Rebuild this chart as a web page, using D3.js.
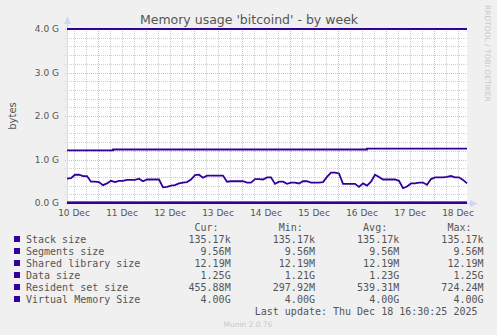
<!DOCTYPE html>
<html>
<head>
<meta charset="utf-8">
<script src="https://cdn.jsdelivr.net/npm/d3@7"></script>
<style>
  html, body { margin: 0; padding: 0; background: #f0f0f0; }
  svg { display: block; }
  text { font-family: "DejaVu Sans", sans-serif; }
  .mono { font-family: "DejaVu Sans Mono", monospace; font-size: 10px; fill: #555; }
</style>
</head>
<body>
<div id="chart"></div>
<script>
(function () {
    'use strict'

    // time window shown (UTC) and sampling of the traced series
    var startTime = new Date(Date.UTC(2025, 11, 10, 8, 30))
    var endTime = new Date(Date.UTC(2025, 11, 18, 16, 30))
    var sampleHours = 2

    // resident set size, in G, read every 2 hours from the picture
    var rssValues = [
        0.56, 0.57, 0.65, 0.65, 0.62, 0.62, 0.49, 0.49, 0.48, 0.41,
        0.45, 0.51, 0.48, 0.51, 0.51, 0.53, 0.53, 0.53, 0.56, 0.50,
        0.54, 0.54, 0.54, 0.54, 0.36, 0.37, 0.40, 0.41, 0.45, 0.47,
        0.48, 0.54, 0.64, 0.65, 0.58, 0.63, 0.63, 0.63, 0.63, 0.63,
        0.49, 0.50, 0.50, 0.50, 0.50, 0.47, 0.47, 0.55, 0.55, 0.54,
        0.59, 0.59, 0.44, 0.49, 0.49, 0.44, 0.47, 0.47, 0.45, 0.50,
        0.50, 0.47, 0.47, 0.47, 0.48, 0.60, 0.70, 0.70, 0.68, 0.44,
        0.44, 0.44, 0.44, 0.37, 0.45, 0.40, 0.49, 0.65, 0.60, 0.54,
        0.54, 0.54, 0.54, 0.51, 0.34, 0.38, 0.45, 0.45, 0.47, 0.47,
        0.42, 0.55, 0.59, 0.59, 0.59, 0.60, 0.62, 0.59, 0.59, 0.53,
        0.45
    ]

    // data size steps: hours after start, value in G
    var dataSizeHours = [0, 23, 150, 200]
    var dataSizeValues = [1.21, 1.23, 1.25, 1.25]

    // flat series, in G
    var virtualMemory = 4.0
    var stackSize = 0.000126
    var segmentsSize = 0.0093
    var sharedLibSize = 0.0119

    var yTicks = [0, 1, 2, 3, 4]

    var legendNames = ['Stack size', 'Segments size', 'Shared library size', 'Data size', 'Resident set size', 'Virtual Memory Size']
    var curVals = ['135.17k', '9.56M', '12.19M', '1.25G', '455.88M', '4.00G']
    var minVals = ['135.17k', '9.56M', '12.19M', '1.21G', '297.92M', '4.00G']
    var avgVals = ['135.17k', '9.56M', '12.19M', '1.23G', '539.31M', '4.00G']
    var maxVals = ['135.17k', '9.56M', '12.19M', '1.25G', '724.24M', '4.00G']

    var lineColor = '#330099'
    var W = 497, H = 335
    var left = 67, right = 467, top = 29, bottom = 203

    var svg = d3.select('#chart').append('svg')
        .attr('width', W)
        .attr('height', H)

    svg.append('rect').attr('width', W).attr('height', H).attr('fill', '#f0f0f0')

    var x = d3.scaleUtc().domain([startTime, endTime]).range([left, right])
    var y = d3.scaleLinear().domain([0, 4]).range([bottom, top])

    function hoursToDate(h) {
        return new Date(startTime.getTime() + h * 3600 * 1000)
    }

    // canvas
    svg.append('rect')
        .attr('x', left).attr('y', top)
        .attr('width', right - left).attr('height', bottom - top)
        .attr('fill', '#fff')

    var minorColor = '#cdcdcd', majorColor = '#eab4b4'

    // minor grid
    var minorY = d3.range(0, 4.001, 0.2).filter(function (v) { return Math.abs(v - Math.round(v)) > 0.01 })
    svg.append('g').selectAll('line').data(minorY).enter().append('line')
        .attr('x1', left - 2).attr('x2', right)
        .attr('y1', function (d) { return Math.round(y(d)) + 0.5 })
        .attr('y2', function (d) { return Math.round(y(d)) + 0.5 })
        .attr('stroke', minorColor).attr('stroke-dasharray', '1,1')

    var minorX = d3.utcHour.every(6).range(startTime, endTime)
        .filter(function (d) { return d.getUTCHours() !== 0 })
    svg.append('g').selectAll('line').data(minorX).enter().append('line')
        .attr('x1', function (d) { return Math.round(x(d)) + 0.5 })
        .attr('x2', function (d) { return Math.round(x(d)) + 0.5 })
        .attr('y1', top).attr('y2', bottom + 2)
        .attr('stroke', minorColor).attr('stroke-dasharray', '1,1')

    // major grid
    svg.append('g').selectAll('line').data(yTicks).enter().append('line')
        .attr('x1', left - 2).attr('x2', right)
        .attr('y1', function (d) { return Math.round(y(d)) + 0.5 })
        .attr('y2', function (d) { return Math.round(y(d)) + 0.5 })
        .attr('stroke', majorColor).attr('stroke-dasharray', '1,1')

    var days = d3.utcDay.range(startTime, endTime)
    svg.append('g').selectAll('line').data(days).enter().append('line')
        .attr('x1', function (d) { return Math.round(x(d)) + 0.5 })
        .attr('x2', function (d) { return Math.round(x(d)) + 0.5 })
        .attr('y1', top).attr('y2', bottom + 2)
        .attr('stroke', majorColor).attr('stroke-dasharray', '1,1')

    // axes with arrows
    var axisColor = '#cfd6f8'
    svg.append('line').attr('x1', left + 0.5).attr('x2', left + 0.5)
        .attr('y1', bottom + 2).attr('y2', top - 6)
        .attr('stroke', axisColor)
    svg.append('path').attr('d', 'M' + (left - 3) + ',' + (top - 5) + 'L' + (left + 0.5) + ',' + (top - 13) + 'L' + (left + 4) + ',' + (top - 5) + 'Z')
        .attr('fill', axisColor)
    svg.append('line').attr('x1', left - 2).attr('x2', right + 4)
        .attr('y1', bottom + 0.5).attr('y2', bottom + 0.5)
        .attr('stroke', axisColor)
    svg.append('path').attr('d', 'M' + (right + 3) + ',' + (bottom - 3) + 'L' + (right + 11) + ',' + (bottom + 0.5) + 'L' + (right + 3) + ',' + (bottom + 4) + 'Z')
        .attr('fill', axisColor)

    // tick labels
    svg.append('g').selectAll('text').data(yTicks).enter().append('text')
        .attr('x', 59).attr('y', function (d) { return y(d) + 3.3 })
        .attr('text-anchor', 'end')
        .attr('font-size', '9px').attr('fill', '#555')
        .text(function (d) { return d.toFixed(1) + ' G' })

    var fmt = d3.utcFormat('%d %b')
    var labelDays = d3.utcDay.range(d3.utcDay.floor(startTime), endTime).filter(function (d) {
        var noon = d3.utcHour.offset(d, 12)
        return noon >= startTime && noon <= endTime
    })
    svg.append('g').selectAll('text').data(labelDays).enter().append('text')
        .attr('x', function (d) { return x(d3.utcHour.offset(d, 12)) })
        .attr('y', 215.5)
        .attr('text-anchor', 'middle')
        .attr('font-size', '9px').attr('fill', '#555')
        .text(function (d) { return fmt(d) })

    // series
    var line = d3.line()
        .x(function (d) { return x(d[0]) })
        .y(function (d) { return y(d[1]) })

    var flat = function (v) { return [[startTime, v], [endTime, v]] }
    var dataPts = []
    dataSizeHours.forEach(function (h, i) {
        if (i > 0) dataPts.push([hoursToDate(h), dataSizeValues[i - 1]])
        dataPts.push([hoursToDate(h), dataSizeValues[i]])
    })
    var rssPts = rssValues.map(function (v, i) { return [hoursToDate(Math.min(i * sampleHours, 200)), v] })

    var series = [flat(stackSize), flat(segmentsSize), flat(sharedLibSize), dataPts, rssPts, flat(virtualMemory)]
    svg.append('g').selectAll('path').data(series).enter().append('path')
        .attr('d', line)
        .attr('fill', 'none')
        .attr('stroke', lineColor)
        .attr('stroke-width', 1.8)
        .attr('stroke-linejoin', 'miter')

    // title and labels
    svg.append('text').attr('x', 249).attr('y', 24)
        .attr('text-anchor', 'middle').attr('font-size', '12.5px').attr('fill', '#555')
        .text("Memory usage 'bitcoind' - by week")

    svg.append('text').attr('transform', 'translate(16,' + ((top + bottom) / 2) + ') rotate(-90)')
        .attr('text-anchor', 'middle').attr('font-size', '10px').attr('fill', '#555')
        .text('bytes')

    svg.append('text').attr('transform', 'translate(485,5) rotate(90)')
        .attr('font-size', '7.5px').attr('fill', '#c8c8c8')
        .text('RRDTOOL / TOBI OETIKER')

    // legend
    var cw = 6.02, lx = 26
    var colEnds = [34, 48, 62, 76].map(function (c) { return lx + c * cw })
    var headers = ['Cur:', 'Min:', 'Avg:', 'Max:']
    headers.forEach(function (h, i) {
        svg.append('text').attr('class', 'mono')
            .attr('x', colEnds[i] - 2 * cw).attr('y', 230.5)
            .attr('text-anchor', 'end').text(h)
    })

    var rows = svg.append('g').selectAll('g').data(legendNames).enter().append('g')
        .attr('transform', function (d, i) { return 'translate(0,' + (242.5 + i * 12) + ')' })
    rows.append('rect').attr('x', 14).attr('y', -6.5).attr('width', 6).attr('height', 6).attr('fill', lineColor)
    rows.append('text').attr('class', 'mono').attr('x', lx).text(function (d) { return d })
    ;[curVals, minVals, avgVals, maxVals].forEach(function (arr, c) {
        rows.append('text').attr('class', 'mono')
            .attr('x', colEnds[c]).attr('text-anchor', 'end')
            .text(function (d, i) { return arr[i] })
    })

    svg.append('text').attr('class', 'mono')
        .attr('x', colEnds[3] - cw).attr('y', 314.5).attr('text-anchor', 'end')
        .text('Last update: Thu Dec 18 16:30:25 2025')

    svg.append('text').attr('x', 248).attr('y', 327)
        .attr('text-anchor', 'middle').attr('font-size', '7.5px').attr('fill', '#c8c8c8')
        .text('Munin 2.0.76')
})()
</script>
</body>
</html>
